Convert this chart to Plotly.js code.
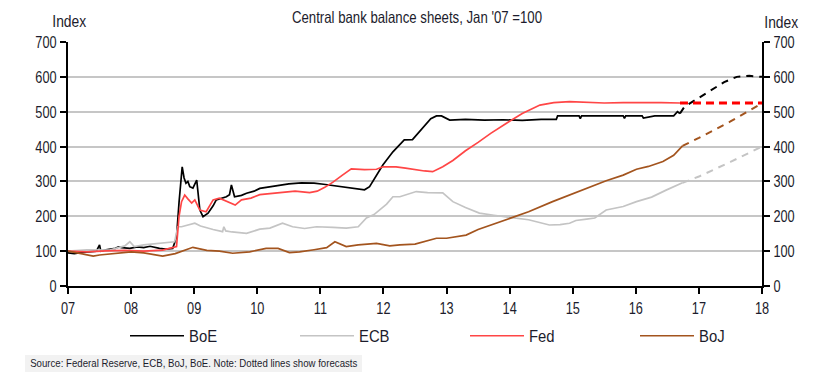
<!DOCTYPE html>
<html>
<head>
<meta charset="utf-8">
<script src="https://cdn.plot.ly/plotly-3.0.1.min.js"></script>
<style>html,body{margin:0;padding:0;background:#fff;}#chart{width:825px;height:384px;}</style>
</head>
<body>
<div id="chart"></div>
<script>
// ---- data (decimal years, index Jan '07 = 100) ----
const tickYears = [2007,2008,2009,2010,2011,2012,2013,2014,2015,2016,2017,2018];
const tickText  = ["07","08","09","10","11","12","13","14","15","16","17","18"];
const yTicks    = [0,100,200,300,400,500,600,700];

const boeX = [2007.0,2007.1,2007.2,2007.3,2007.45,2007.5,2007.52,2007.6,2007.75,2007.8,2007.85,2007.98,2008.1,2008.2,2008.3,2008.45,2008.55,2008.66,2008.72,2008.76,2008.79,2008.81,2008.84,2008.87,2008.9,2008.93,2008.98,2009.02,2009.04,2009.09,2009.14,2009.22,2009.3,2009.35,2009.45,2009.51,2009.56,2009.59,2009.64,2009.75,2009.83,2009.95,2010.04,2010.2,2010.35,2010.5,2010.7,2010.9,2011.05,2011.2,2011.4,2011.55,2011.7,2011.78,2011.9,2011.99,2012.15,2012.33,2012.46,2012.6,2012.75,2012.84,2012.92,2013.05,2013.3,2013.6,2013.9,2014.2,2014.5,2014.74,2014.76,2015.0,2015.1,2015.12,2015.14,2015.5,2015.8,2015.82,2015.84,2016.0,2016.1,2016.12,2016.3,2016.55,2016.6,2016.66,2016.7];
const boeY = [95,93,96,98,100,118,100,104,108,112,110,108,112,110,114,108,106,108,140,240,320,342,310,295,300,285,281,300,304,218,199,209,230,247,252,256,262,290,256,260,266,272,280,285,290,293,296,295,292,288,282,278,276,285,320,347,385,419,420,450,480,488,488,476,478,476,477,475,478,478,488,488,488,480,488,488,488,481,488,488,488,482,488,488,488,500,495];

const fedX = [2007.0,2007.3,2007.6,2007.9,2008.2,2008.5,2008.72,2008.76,2008.8,2008.85,2008.9,2008.96,2009.01,2009.09,2009.19,2009.3,2009.4,2009.48,2009.56,2009.65,2009.75,2009.9,2010.04,2010.2,2010.4,2010.6,2010.83,2010.95,2011.07,2011.2,2011.35,2011.49,2011.7,2011.89,2011.99,2012.2,2012.35,2012.52,2012.65,2012.78,2012.94,2013.1,2013.3,2013.5,2013.7,2013.95,2014.2,2014.48,2014.7,2014.95,2015.2,2015.5,2015.8,2016.1,2016.4,2016.7];
const fedY = [100,98,101,102,100,103,113,200,242,261,250,238,247,218,213,247,252,245,238,232,247,252,262,265,270,272,268,272,283,298,318,336,334,335,342,342,338,333,330,328,342,360,388,412,438,467,495,519,526,529,527,525,526,527,526,525];

const ecbX = [2007.0,2007.3,2007.66,2007.9,2007.98,2008.05,2008.2,2008.45,2008.69,2008.74,2008.8,2009.01,2009.1,2009.3,2009.45,2009.47,2009.5,2009.6,2009.83,2010.04,2010.2,2010.4,2010.56,2010.75,2010.94,2011.2,2011.41,2011.6,2011.73,2011.85,2011.97,2012.05,2012.15,2012.26,2012.52,2012.7,2012.94,2013.1,2013.3,2013.52,2013.75,2014.0,2014.3,2014.63,2014.8,2014.95,2015.05,2015.22,2015.35,2015.53,2015.8,2016.01,2016.25,2016.48,2016.74];
const ecbY = [100,104,103,115,127,113,118,122,127,170,170,180,172,162,156,170,158,155,151,163,166,180,170,165,170,168,166,170,195,205,224,235,256,256,271,268,267,242,225,209,203,198,190,175,176,180,188,192,195,218,228,242,255,275,296];

const bojX = [2007.0,2007.2,2007.4,2007.5,2007.7,2008.0,2008.2,2008.5,2008.7,2008.98,2009.2,2009.4,2009.61,2009.88,2010.14,2010.33,2010.51,2010.67,2010.9,2011.1,2011.23,2011.41,2011.6,2011.89,2012.1,2012.26,2012.5,2012.84,2013.0,2013.31,2013.5,2013.75,2014.0,2014.3,2014.68,2015.06,2015.3,2015.53,2015.8,2016.01,2016.2,2016.43,2016.6,2016.74];
const bojY = [100,92,86,89,93,98,95,86,93,111,102,100,94,98,108,108,96,98,104,110,127,113,118,122,115,118,120,137,137,146,162,178,194,213,242,268,285,302,318,335,343,357,375,402];

// forecasts (dotted lines)
const boeFX = [2016.7,2016.77,2017.0,2017.2,2017.4,2017.6,2017.8,2018.0];
const boeFY = [495,514,540,563,585,600,603,600];
const fedFX = [2016.7,2018.0];
const fedFY = [525,525];
const ecbFX = [2016.74,2017.0,2017.5,2018.0];
const ecbFY = [296,314,356,400];
const bojFX = [2016.74,2017.0,2017.5,2018.0];
const bojFY = [402,425,472,524];

const FONT = "'Liberation Sans',Arial,sans-serif";
const TXT = '#1c1c2c';
const C = {boe:'#000000', ecb:'#c4c4c4', fed:'#ff4646', boj:'#a3541e'};

function solid(name,x,y,col,w){return {type:'scatter',mode:'lines',name:name,x:x,y:y,line:{color:col,width:w},hoverinfo:'skip',legendgroup:name};}
function dashed(name,x,y,col,w,d){return {type:'scatter',mode:'lines',name:name,x:x,y:y,line:{color:col,width:w,dash:d},hoverinfo:'skip',showlegend:false,legendgroup:name};}

const traces = [
  solid('BoE',boeX,boeY,C.boe,1.7),
  solid('ECB',ecbX,ecbY,C.ecb,1.7),
  solid('Fed',fedX,fedY,C.fed,1.7),
  solid('BoJ',bojX,bojY,C.boj,1.7),
  dashed('BoE',boeFX,boeFY,C.boe,2,'7px,6px'),
  dashed('ECB',ecbFX,ecbFY,C.ecb,2,'7px,6px'),
  dashed('BoJ',bojFX,bojFY,C.boj,2,'7px,6px'),
  dashed('Fed',fedFX,fedFY,'#ff0000',3,'8px,5px'),
  {type:'scatter',mode:'lines',x:[2007,2018],y:[0,700],yaxis:'y2',line:{width:0},opacity:0,showlegend:false,hoverinfo:'skip'}
];

const yax = {range:[0,700],tickvals:yTicks,ticks:'outside',ticklen:6,tickwidth:2,tickcolor:'#000',
  showline:true,linewidth:2,linecolor:'#000',showgrid:true,gridcolor:'#c6c6c6',gridwidth:2,zeroline:false,
  tickfont:{family:FONT,size:17,color:TXT},fixedrange:true};

const layout = {
  width:825,height:384,paper_bgcolor:'#fff',plot_bgcolor:'#fff',
  margin:{l:68,r:63,t:42,b:98},
  font:{family:FONT,color:TXT,size:14},
  title:{text:"Central bank balance sheets, Jan '07 =100",font:{family:FONT,size:16.5,color:TXT},
    xref:'container',yref:'container',x:417/825,xanchor:'center',y:1-17/384,yanchor:'middle'},
  xaxis:{range:[2007,2018],tickvals:tickYears,ticktext:tickText,ticks:'outside',ticklen:6,tickwidth:2,tickcolor:'#000',
    showline:true,linewidth:2,linecolor:'#000',showgrid:false,zeroline:false,tickfont:{family:FONT,size:17,color:TXT},fixedrange:true},
  yaxis:Object.assign({},yax,{side:'left'}),
  yaxis2:Object.assign({},yax,{side:'right',overlaying:'y',showgrid:false}),
  showlegend:true,
  legend:{orientation:'h',x:(125-68)/694,xanchor:'left',y:(286-336)/244,yanchor:'middle',itemwidth:54,
    entrywidth:101,entrywidthmode:'pixels',font:{family:FONT,size:16.5,color:TXT},bgcolor:'rgba(0,0,0,0)'},
  shapes:[
    {type:'rect',xref:'paper',yref:'paper',x0:(25-68)/694,x1:(362-68)/694,y0:(286-372)/244,y1:(286-355)/244,
     fillcolor:'#f2f2f2',line:{width:0},layer:'below'}
  ],
  annotations:[
    {text:'Index',xref:'paper',yref:'paper',x:(69.5-68)/694,y:(286-21)/244,xanchor:'center',yanchor:'middle',showarrow:false,font:{family:FONT,size:16.5,color:TXT}},
    {text:'Index',xref:'paper',yref:'paper',x:(781-68)/694,y:(286-22)/244,xanchor:'center',yanchor:'middle',showarrow:false,font:{family:FONT,size:16.5,color:TXT}},
    {text:'Source: Federal Reserve, ECB, BoJ, BoE. Note: Dotted lines show forecasts',xref:'paper',yref:'paper',
     x:(28-68)/694,y:(286-363)/244,xanchor:'left',yanchor:'middle',showarrow:false,
     font:{family:FONT,size:10.5,color:TXT}}
  ]
};

// the reference uses a condensed face: squeeze text horizontally around its anchor
function squash(el, s, forceAnchor){
  const NS='http://www.w3.org/2000/svg';
  const g=document.createElementNS(NS,'g');
  el.parentNode.insertBefore(g,el); g.appendChild(el);
  const b=g.getBBox();
  const a=forceAnchor||el.getAttribute('text-anchor')||'start';
  const ox = a==='middle' ? b.x+b.width/2 : (a==='end' ? b.x+b.width : b.x);
  g.setAttribute('transform','translate('+ox+',0) scale('+s+',1) translate('+(-ox)+',0)');
}

Plotly.newPlot('chart',traces,layout,{displayModeBar:false,staticPlot:true}).then(function(gd){
  gd.querySelectorAll('.xtick text, .ytick text, .y2tick text').forEach(t=>squash(t,0.75));
  gd.querySelectorAll('.gtitle').forEach(t=>squash(t,0.8));
  gd.querySelectorAll('.legendtext').forEach(t=>squash(t,0.9,'start'));
  gd.querySelectorAll('.annotation-text').forEach(t=>{
    if(t.textContent==='Index') squash(t,0.84);
    else squash(t,0.92,'start');
  });
});
</script>
</body>
</html>
